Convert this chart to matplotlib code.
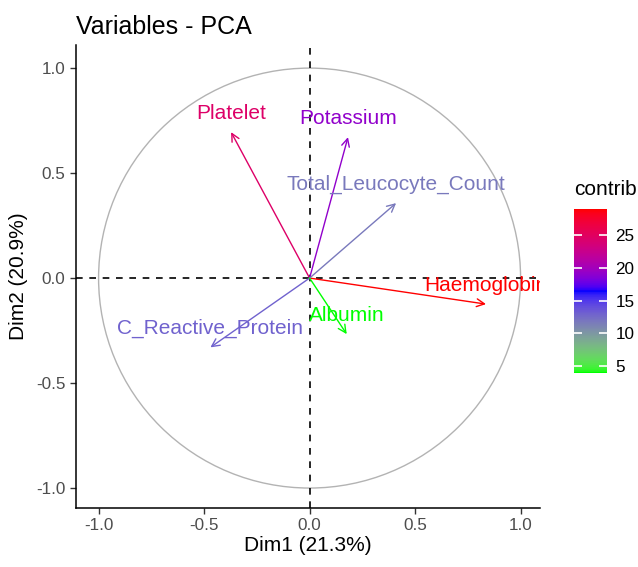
import numpy as np
import matplotlib
matplotlib.use("Agg")
import matplotlib.pyplot as plt
from matplotlib.patches import Circle
from matplotlib.colors import ListedColormap, Normalize
from matplotlib.cm import ScalarMappable

plt.rcParams['font.family'] = ['Liberation Sans', 'DejaVu Sans']

# variable coordinates on Dim1 / Dim2 and their contributions
variables = ["Haemoglobin", "Platelet", "Potassium", "Total_Leucocyte_Count",
             "C_Reactive_Protein", "Albumin"]
dim1 = [0.836, -0.372, 0.182, 0.410, -0.470, 0.176]
dim2 = [-0.124, 0.695, 0.671, 0.357, -0.330, -0.267]
contrib = [28.9, 24.5, 19.1, 11.7, 13.0, 4.0]
cbar_ticks = [5, 10, 15, 20, 25]
grad_cols = ["#00FF00", "#0000FF", "#FF0000"]


def srgb_to_lab(rgb):
    rgb = np.asarray(rgb, float)
    lin = np.where(rgb <= 0.04045, rgb / 12.92, ((rgb + 0.055) / 1.055) ** 2.4)
    m = np.array([[0.4124, 0.3576, 0.1805],
                  [0.2126, 0.7152, 0.0722],
                  [0.0193, 0.1192, 0.9505]])
    xyz = m @ lin / np.array([0.95047, 1.0, 1.08883])
    f = np.where(xyz > 0.008856, np.cbrt(xyz), 7.787 * xyz + 16 / 116)
    return np.array([116 * f[1] - 16, 500 * (f[0] - f[1]), 200 * (f[1] - f[2])])


def lab_to_srgb(lab):
    L, a, b = lab
    fy = (L + 16) / 116
    fx = fy + a / 500
    fz = fy - b / 200
    f = np.array([fx, fy, fz])
    xyz = np.where(f ** 3 > 0.008856, f ** 3, (f - 16 / 116) / 7.787)
    xyz = xyz * np.array([0.95047, 1.0, 1.08883])
    m = np.array([[3.2406, -1.5372, -0.4986],
                  [-0.9689, 1.8758, 0.0415],
                  [0.0557, -0.2040, 1.0570]])
    lin = m @ xyz
    lin = np.clip(lin, 0, 1)
    rgb = np.where(lin <= 0.0031308, 12.92 * lin, 1.055 * lin ** (1 / 2.4) - 0.055)
    return np.clip(rgb, 0, 1)


def hex_rgb(h):
    return np.array([int(h[i:i + 2], 16) / 255 for i in (1, 3, 5)])


labs = [srgb_to_lab(hex_rgb(c)) for c in grad_cols]
ramp = []
for t in np.linspace(0, 1, 256):
    seg = min(int(t * 2), 1)
    u = t * 2 - seg
    ramp.append(lab_to_srgb(labs[seg] * (1 - u) + labs[seg + 1] * u))
cmap = ListedColormap(ramp)
norm = Normalize(vmin=min(contrib), vmax=max(contrib))

fig = plt.figure(figsize=(6.38, 5.67), dpi=100)
ax = fig.add_axes([76 / 638, 1 - 508 / 567, 464 / 638, 463 / 567])
ax.set_xlim(-1.107, 1.092)
ax.set_ylim(-1.095, 1.11)

ax.add_patch(Circle((0, 0), 1.0, fill=False, edgecolor="#B3B3B3", lw=1.0))
ax.axhline(0, color="black", ls=(0, (4, 4)), lw=1.2)
ax.axvline(0, color="black", ls=(0, (4, 4)), lw=1.2)

for name, x, y, c in zip(variables, dim1, dim2, contrib):
    col = cmap(norm(c))
    ax.annotate("", xy=(x, y), xytext=(0, 0),
                arrowprops=dict(arrowstyle="->", color=col, lw=1.0,
                                mutation_scale=14, shrinkA=0, shrinkB=0))
    ax.annotate(name, xy=(x, y), xytext=(0, 13.5), textcoords="offset points",
                ha="center", va="center", color=col, fontsize=15,
                annotation_clip=False, clip_on=True)

for s in ["top", "right"]:
    ax.spines[s].set_visible(False)
ax.spines["left"].set_linewidth(1.1)
ax.spines["bottom"].set_linewidth(1.1)
ax.set_xticks([-1.0, -0.5, 0.0, 0.5, 1.0])
ax.set_yticks([-1.0, -0.5, 0.0, 0.5, 1.0])
ax.set_xticklabels(["-1.0", "-0.5", "0.0", "0.5", "1.0"])
ax.set_yticklabels(["-1.0", "-0.5", "0.0", "0.5", "1.0"])
ax.tick_params(labelsize=12.3, labelcolor="#4D4D4D", color="#333333", length=4, width=1.0)
ax.set_xlabel("Dim1 (21.3%)", fontsize=15, labelpad=2)
ax.set_ylabel("Dim2 (20.9%)", fontsize=15, labelpad=6)
ax.set_title("Variables - PCA", loc="left", fontsize=18, pad=8)

cax = fig.add_axes([574 / 638, 1 - 373 / 567, 33 / 638, 164 / 567])
cb = fig.colorbar(ScalarMappable(norm=norm, cmap=cmap), cax=cax, ticks=cbar_ticks)
cb.outline.set_visible(False)
cax.tick_params(direction="in", color="white", length=6, width=1.2,
                left=True, right=True, labelsize=12.3, labelcolor="black", pad=6)
cax.set_title("contrib", fontsize=15, loc="left", pad=10)

fig.savefig("out.png", dpi=100)
